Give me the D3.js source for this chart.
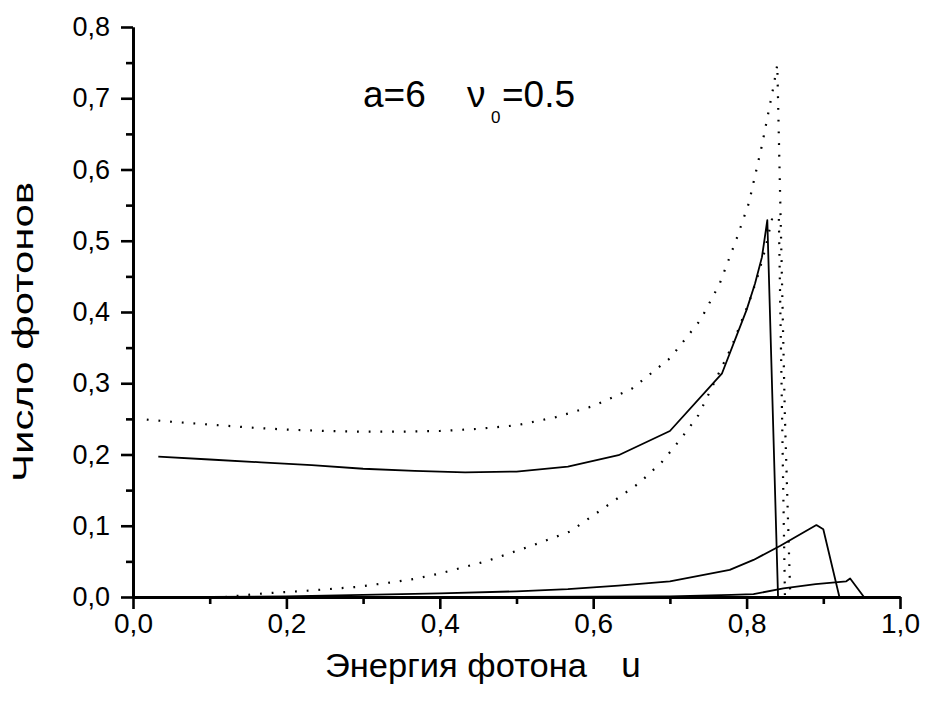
<!DOCTYPE html>
<html>
<head>
<meta charset="utf-8">
<script src="https://cdn.jsdelivr.net/npm/d3@7"></script>
<style>
  html, body { margin: 0; padding: 0; background: #fff; }
  svg { display: block; }
  text { font-family: "Liberation Sans", Arial, sans-serif; fill: #000; }
</style>
</head>
<body>
<svg id="chart" width="932" height="701"></svg>
<script>
// ---- data ----
const dottedUpperX = [0.018, 0.05, 0.10, 0.15, 0.20, 0.25, 0.30, 0.35, 0.40, 0.45, 0.50, 0.55, 0.60, 0.65, 0.70, 0.74, 0.765, 0.787, 0.803, 0.820, 0.835, 0.840, 0.845, 0.850, 0.857];
const dottedUpperY = [0.249, 0.246, 0.242, 0.238, 0.235, 0.233, 0.232, 0.232, 0.233, 0.236, 0.241, 0.252, 0.268, 0.292, 0.335, 0.389, 0.440, 0.503, 0.553, 0.634, 0.716, 0.747, 0.500, 0.250, 0.0];

const dottedLowerX = [0.12, 0.17, 0.23, 0.29, 0.34, 0.37, 0.40, 0.46, 0.52, 0.57, 0.61, 0.66, 0.69, 0.715, 0.737, 0.752, 0.780, 0.805, 0.815, 0.824, 0.833, 0.842, 0.846, 0.850];
const dottedLowerY = [0.0, 0.005, 0.009, 0.014, 0.021, 0.026, 0.033, 0.050, 0.072, 0.092, 0.122, 0.160, 0.190, 0.223, 0.255, 0.288, 0.350, 0.419, 0.452, 0.487, 0.530, 0.535, 0.270, 0.0];

const solidUpperX = [0.033, 0.10, 0.167, 0.233, 0.30, 0.367, 0.433, 0.50, 0.567, 0.633, 0.70, 0.768, 0.800, 0.811, 0.820, 0.827, 0.841];
const solidUpperY = [0.197, 0.193, 0.189, 0.185, 0.180, 0.177, 0.175, 0.176, 0.183, 0.199, 0.233, 0.314, 0.403, 0.440, 0.477, 0.529, 0.0];

const solidMiddleX = [0.10, 0.20, 0.30, 0.40, 0.50, 0.567, 0.633, 0.70, 0.778, 0.809, 0.844, 0.891, 0.900, 0.921];
const solidMiddleY = [0.0, 0.001, 0.003, 0.005, 0.008, 0.011, 0.016, 0.022, 0.038, 0.052, 0.072, 0.101, 0.095, 0.0];

const solidLowerX = [0.50, 0.60, 0.70, 0.74, 0.78, 0.809, 0.848, 0.890, 0.930, 0.935, 0.953];
const solidLowerY = [0.0, 0.0005, 0.001, 0.002, 0.003, 0.004, 0.012, 0.018, 0.022, 0.026, 0.0];

const xMajorTicks = [0.0, 0.2, 0.4, 0.6, 0.8, 1.0];
const xTickLabels = ["0,0", "0,2", "0,4", "0,6", "0,8", "1,0"];
const xMinorTicks = [0.1, 0.3, 0.5, 0.7, 0.9];
const yMajorTicks = [0.0, 0.1, 0.2, 0.3, 0.4, 0.5, 0.6, 0.7, 0.8];
const yTickLabels = ["0,0", "0,1", "0,2", "0,3", "0,4", "0,5", "0,6", "0,7", "0,8"];
const yMinorTicks = [0.05, 0.15, 0.25, 0.35, 0.45, 0.55, 0.65, 0.75];

const xTitle = "Энергия фотона";
const xTitleVar = "u";
const yTitle = "Число фотонов";

// ---- drawing ----
const svg = d3.select("#chart");
const x = d3.scaleLinear().domain([0, 1.0]).range([133, 900]);
const y = d3.scaleLinear().domain([0, 0.8]).range([597, 27]);

const line = d3.line().x(d => x(d[0])).y(d => y(d[1]));
const zip = (xs, ys) => xs.map((v, i) => [v, ys[i]]);

const series = [
  { data: zip(dottedUpperX, dottedUpperY), dotted: true },
  { data: zip(dottedLowerX, dottedLowerY), dotted: true },
  { data: zip(solidUpperX, solidUpperY), dotted: false },
  { data: zip(solidMiddleX, solidMiddleY), dotted: false },
  { data: zip(solidLowerX, solidLowerY), dotted: false }
];

const plot = svg.append("g");
series.forEach(s => {
  plot.append("path")
    .attr("d", line(s.data))
    .attr("fill", "none")
    .attr("stroke", "#000")
    .attr("stroke-width", s.dotted ? 2.2 : 1.8)
    .attr("stroke-dasharray", s.dotted ? "1.8 9.9" : null)
    .attr("stroke-linejoin", "round");
});

// X axis
const xAxisMajor = d3.axisBottom(x).tickValues(xMajorTicks)
  .tickFormat((d, i) => xTickLabels[i]).tickSize(12).tickPadding(4).tickSizeOuter(0);
const xAxisMinor = d3.axisBottom(x).tickValues(xMinorTicks).tickFormat("").tickSize(7).tickSizeOuter(0);
const gxMinor = svg.append("g").attr("transform", "translate(0,597)").call(xAxisMinor);
const gx = svg.append("g").attr("transform", "translate(0,597)").call(xAxisMajor);

// Y axis
const yAxisMajor = d3.axisLeft(y).tickValues(yMajorTicks)
  .tickFormat((d, i) => yTickLabels[i]).tickSize(12).tickPadding(11).tickSizeOuter(0);
const yAxisMinor = d3.axisLeft(y).tickValues(yMinorTicks).tickFormat("").tickSize(7).tickSizeOuter(0);
const gyMinor = svg.append("g").attr("transform", "translate(133,0)").call(yAxisMinor);
const gy = svg.append("g").attr("transform", "translate(133,0)").call(yAxisMajor);

[gx, gxMinor, gy, gyMinor].forEach(g => {
  g.selectAll(".domain").attr("stroke", "#000").attr("stroke-width", 2.8);
  g.selectAll(".tick line").attr("stroke", "#000").attr("stroke-width", 2.6);
  g.selectAll(".tick text").style("font-family", "'Liberation Sans', Arial, sans-serif")
    .attr("fill", "#000");
});
gx.selectAll(".tick text").style("font-size", "28px");
gy.selectAll(".tick text").style("font-size", "27px");

// Titles
svg.append("text").attr("x", 325).attr("y", 677)
  .attr("textLength", 262).attr("lengthAdjust", "spacingAndGlyphs")
  .style("font-size", "33px").text(xTitle);
svg.append("text").attr("x", 631).attr("y", 677).attr("text-anchor", "middle")
  .style("font-size", "35px").text(xTitleVar);

svg.append("text")
  .attr("transform", "translate(33,332) rotate(-90)")
  .attr("text-anchor", "middle")
  .attr("textLength", 300).attr("lengthAdjust", "spacingAndGlyphs")
  .style("font-size", "29px").text(yTitle);

// Annotation  a=6   ν0=0.5
const ann = svg.append("text").attr("x", 363).attr("y", 107).style("font-size", "37px");
ann.append("tspan").text("a=6");
ann.append("tspan").attr("x", 467).text("ν");
ann.append("tspan").attr("x", 491).attr("dy", 16).style("font-size", "17px").text("0");
ann.append("tspan").attr("x", 502).attr("dy", -16).text("=0.5");
</script>
</body>
</html>
